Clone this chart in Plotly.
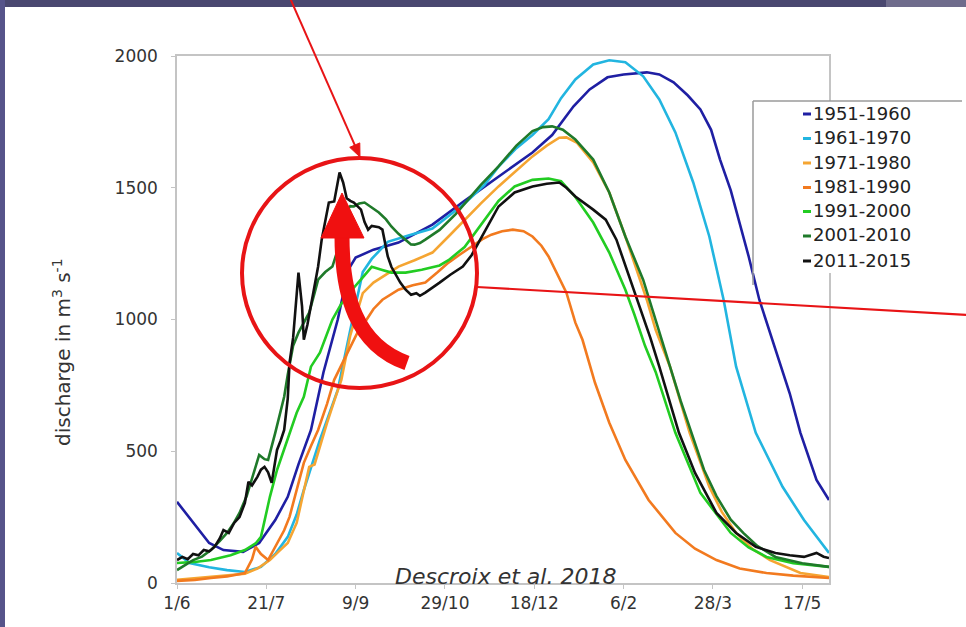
import math
import plotly.graph_objects as go

# ---------------- data (day index from 1 June, discharge m3/s) ----------------
tick_days = [0, 50, 100, 150, 200, 250, 300, 350]
tick_labels = ["1/6", "21/7", "9/9", "29/10", "18/12", "6/2", "28/3", "17/5"]
y_ticks = [0, 500, 1000, 1500, 2000]

series_names = ["1951-1960", "1961-1970", "1971-1980", "1981-1990",
                "1991-2000", "2001-2010", "2011-2015"]
series_colors = ["#1f1fa3", "#22b5e0", "#f5a532", "#f27a1f",
                 "#22cc22", "#1f7a2a", "#111111"]

d_5160 = [0, 9, 18, 26, 37, 46, 55, 62, 68, 75, 82, 90, 96, 100, 110, 124, 143, 161, 180, 199,
          210, 222, 231, 241, 250, 263, 270, 278, 286, 293, 299, 304, 310, 315, 320, 326, 332,
          338, 343, 349, 354, 358, 365]
q_5160 = [308, 228, 152, 125, 118, 152, 239, 327, 450, 581, 800, 1000, 1190, 1235, 1265, 1292,
          1360, 1450, 1543, 1634, 1700, 1809, 1873, 1919, 1930, 1938, 1930, 1900, 1850, 1797,
          1720, 1607, 1490, 1364, 1240, 1075, 950, 821, 720, 570, 470, 391, 315]

d_6170 = [0, 7, 18, 28, 38, 47, 55, 62, 67, 71, 80, 90, 97, 104, 109, 118, 130, 143, 161, 172,
          180, 190, 199, 208, 215, 223, 233, 242, 251, 261, 270, 279, 289, 298, 306, 313, 324,
          339, 351, 365]
q_6170 = [114, 76, 60, 49, 42, 61, 110, 175, 260, 353, 543, 733, 960, 1180, 1230, 1295, 1320,
          1345, 1440, 1510, 1580, 1650, 1700, 1760, 1840, 1911, 1968, 1984, 1976, 1923, 1835,
          1710, 1520, 1315, 1075, 821, 570, 365, 239, 114]

d_7180 = [0, 10, 19, 28, 38, 45, 52, 57, 62, 67, 71, 74, 77, 80, 84, 88, 92, 97, 104, 110,
          115, 124, 133, 143, 152, 161, 170, 180, 190, 199, 207, 214, 218, 224, 233, 242, 251,
          258, 263, 268, 276, 287, 298, 305, 313, 322, 332, 349, 365]
q_7180 = [12, 18, 22, 28, 35, 55, 87, 120, 152, 228, 350, 441, 450, 520, 608, 690, 771, 940,
          1100, 1140, 1163, 1201, 1225, 1254, 1315, 1379, 1440, 1505, 1565, 1619, 1660, 1690,
          1691, 1670, 1596, 1482, 1315, 1170, 1075, 960, 821, 570, 365, 270, 190, 130, 87, 38, 23]

d_8190 = [0, 10, 19, 28, 38, 42, 44, 47, 51, 56, 60, 63, 67, 71, 75, 79, 84, 88, 93, 97, 101,
          105, 110, 115, 124, 132, 139, 146, 152, 158, 165, 171, 176, 182, 188, 194, 199, 204,
          208, 214, 218, 223, 227, 234, 242, 251, 264, 279, 290, 302, 315, 330, 345, 365]
q_8190 = [8, 12, 19, 25, 38, 90, 137, 110, 87, 152, 200, 251, 350, 456, 520, 581, 680, 771,
          840, 897, 950, 988, 1040, 1075, 1113, 1130, 1140, 1180, 1216, 1245, 1277, 1305, 1322,
          1335, 1341, 1335, 1315, 1280, 1239, 1160, 1102, 988, 923, 760, 608, 467, 315, 190,
          130, 87, 55, 38, 28, 19]

d_9100 = [0, 10, 19, 30, 38, 44, 47, 52, 56, 62, 67, 71, 75, 80, 87, 92, 98, 104, 109, 114,
          120, 128, 137, 147, 152, 161, 171, 180, 189, 199, 208, 215, 223, 233, 242, 251, 256,
          262, 268, 279, 293, 310, 320, 330, 345, 365]
q_9100 = [76, 80, 87, 105, 125, 150, 175, 327, 429, 543, 646, 707, 821, 874, 1000, 1060, 1113,
          1160, 1200, 1190, 1178, 1178, 1189, 1205, 1225, 1275, 1365, 1450, 1505, 1530, 1535,
          1525, 1465, 1368, 1254, 1113, 1020, 900, 800, 570, 342, 190, 135, 99, 75, 61]

d_0110 = [0, 5, 9, 14, 19, 24, 28, 32, 35, 39, 43, 46, 49, 51, 55, 60, 62, 65, 68, 71, 74, 77,
          79, 83, 87, 90, 92, 94, 97, 99, 102, 105, 109, 113, 117, 120, 124, 128, 131, 133, 136,
          139, 147, 156, 161, 170, 180, 190, 199, 205, 210, 216, 223, 233, 242, 251, 261, 265,
          270, 276, 282, 288, 295, 302, 310, 317, 325, 335, 350, 365]
q_0110 = [49, 70, 87, 100, 125, 160, 190, 230, 266, 330, 418, 486, 470, 467, 570, 707, 790, 900,
          950, 990, 1026, 1100, 1151, 1180, 1201, 1265, 1350, 1406, 1430, 1429, 1440, 1444, 1425,
          1406, 1380, 1353, 1325, 1303, 1285, 1284, 1290, 1303, 1340, 1400, 1440, 1510, 1581,
          1660, 1715, 1730, 1733, 1720, 1683, 1607, 1482, 1315, 1150, 1060, 950, 821, 690, 570,
          430, 330, 240, 190, 140, 99, 75, 61]

d_1115 = [0, 3, 6, 9, 12, 15, 18, 21, 24, 26, 29, 32, 35, 38, 40, 42, 45, 47, 49, 51, 53, 56,
          58, 60, 62, 63, 65, 66, 68, 70, 71, 73, 75, 77, 79, 81, 83, 85, 88, 90, 91, 93, 95, 97,
          99, 101, 103, 105, 107, 109, 111, 113, 115, 117, 118, 120, 122, 125, 128, 131, 134,
          136, 139, 143, 147, 153, 160, 165, 171, 180, 189, 199, 207, 214, 218, 223, 233, 240,
          246, 253, 259, 265, 270, 281, 290, 302, 313, 324, 335, 343, 351, 355, 358, 362, 365]
q_1115 = [87, 99, 90, 110, 105, 125, 120, 137, 170, 201, 190, 228, 250, 304, 384, 370, 403, 430,
          441, 420, 380, 505, 540, 581, 700, 836, 930, 1026, 1178, 1050, 923, 980, 1049, 1120,
          1201, 1303, 1380, 1444, 1448, 1530, 1558, 1520, 1460, 1450, 1444, 1430, 1417, 1370,
          1341, 1355, 1353, 1350, 1341, 1280, 1239, 1200, 1178, 1140, 1113, 1094, 1100, 1090,
          1102, 1120, 1140, 1170, 1201, 1245, 1320, 1429, 1482, 1505, 1515, 1520, 1500, 1467,
          1417, 1379, 1303, 1163, 1050, 930, 821, 570, 418, 266, 190, 137, 114, 105, 99, 108,
          114, 100, 95]

series_days = [d_5160, d_6170, d_7180, d_8190, d_9100, d_0110, d_1115]
series_vals = [q_5160, q_6170, q_7180, q_8190, q_9100, q_0110, q_1115]

source_text = "Descroix et al. 2018"
y_title = "discharge in m<sup>3</sup> s<sup>-1</sup>"

# ---------------- layout geometry (pixels) ----------------
W, H = 966, 627
L, R, T, B = 177, 829, 56, 583
RED = "#e81416"
FONT = "DejaVu Sans"


def fx(px):
    return (px - L) / (R - L)


def fy(py):
    return (B - py) / (B - T)


fig = go.Figure()
for name, col, xs, ys in zip(series_names, series_colors, series_days, series_vals):
    fig.add_trace(go.Scatter(x=xs, y=ys, mode="lines", name=name,
                             line=dict(color=col, width=2.6), showlegend=False))

shapes = []
# slide frame bands
shapes.append(dict(type="rect", xref="paper", yref="paper", x0=fx(0), x1=fx(W), y0=fy(7), y1=fy(0),
                   fillcolor="#4a4870", line=dict(width=0), layer="above"))
shapes.append(dict(type="rect", xref="paper", yref="paper", x0=fx(886), x1=fx(W), y0=fy(7), y1=fy(0),
                   fillcolor="#6f6c8c", line=dict(width=0), layer="above"))
shapes.append(dict(type="rect", xref="paper", yref="paper", x0=fx(0), x1=fx(5), y0=fy(H), y1=fy(0),
                   fillcolor="#56548a", line=dict(width=0), layer="above"))
# legend box
shapes.append(dict(type="rect", xref="paper", yref="paper", x0=fx(753), x1=fx(W + 2), y0=fy(273), y1=fy(101),
                   fillcolor="white", line=dict(width=0), layer="above"))
shapes.append(dict(type="line", xref="paper", yref="paper", x0=fx(753), x1=fx(962), y0=fy(101), y1=fy(101),
                   line=dict(color="#9a9a9a", width=1.5), layer="above"))
shapes.append(dict(type="line", xref="paper", yref="paper", x0=fx(753), x1=fx(753), y0=fy(101), y1=fy(285),
                   line=dict(color="#9a9a9a", width=1.5), layer="above"))
# red circle
shapes.append(dict(type="circle", xref="paper", yref="paper", x0=fx(242), x1=fx(477), y0=fy(388), y1=fy(158),
                   line=dict(color=RED, width=4), layer="above"))
# red line to the right
shapes.append(dict(type="line", xref="paper", yref="paper", x0=fx(477), y0=fy(287), x1=fx(968), y1=fy(315),
                   line=dict(color=RED, width=2.2), layer="above"))
# thin arrow from the top edge down to the circle
tail = (290, -2)
tip = (360, 157)
dx, dy = tip[0] - tail[0], tip[1] - tail[1]
ln = math.hypot(dx, dy)
ux, uy = dx / ln, dy / ln
hl, hw = 13, 5.5
bx, by = tip[0] - hl * ux, tip[1] - hl * uy
shapes.append(dict(type="line", xref="paper", yref="paper", x0=fx(tail[0]), y0=fy(tail[1]),
                   x1=fx(bx + 2 * ux), y1=fy(by + 2 * uy), line=dict(color=RED, width=2), layer="above"))
thin_head = "M {:.5f},{:.5f} L {:.5f},{:.5f} L {:.5f},{:.5f} Z".format(
    fx(tip[0]), fy(tip[1]), fx(bx - hw * uy), fy(by + hw * ux), fx(bx + hw * uy), fy(by - hw * ux))
shapes.append(dict(type="path", xref="paper", yref="paper", path=thin_head,
                   fillcolor=RED, line=dict(color=RED, width=1), layer="above"))
# thick curved arrow shaft
shaft = "M {:.5f},{:.5f} C {:.5f},{:.5f} {:.5f},{:.5f} {:.5f},{:.5f}".format(
    fx(407), fy(363), fx(356), fy(345), fx(342), fy(295), fx(342), fy(236))
shapes.append(dict(type="path", xref="paper", yref="paper", path=shaft,
                   line=dict(color="#f01010", width=15), layer="above"))
head = "M {:.5f},{:.5f} L {:.5f},{:.5f} L {:.5f},{:.5f} Z".format(
    fx(321), fy(238), fx(342), fy(193), fx(364), fy(238))
shapes.append(dict(type="path", xref="paper", yref="paper", path=head,
                   fillcolor="#f01010", line=dict(color="#f01010", width=1), layer="above"))

annotations = []
# legend entries (coloured dash + label)
leg_y = [113, 137.5, 162, 186.5, 210.5, 235, 260]
for name, col, yy in zip(series_names, series_colors, leg_y):
    shapes.append(dict(type="line", xref="paper", yref="paper", x0=fx(803), x1=fx(811),
                       y0=fy(yy + 1), y1=fy(yy + 1), line=dict(color=col, width=3), layer="above"))
    annotations.append(dict(xref="paper", yref="paper", x=fx(811), y=fy(yy), xanchor="left", yanchor="middle",
                            text=name, showarrow=False,
                            font=dict(family=FONT, size=18, color="#222222")))
# source
annotations.append(dict(xref="paper", yref="paper", x=fx(393), y=fy(576), xanchor="left", yanchor="middle",
                        text=source_text, showarrow=False,
                        font=dict(family=FONT, size=22, color="#333333", style="italic")))
# y title
annotations.append(dict(xref="paper", yref="paper", x=fx(62), y=fy(352), xanchor="center", yanchor="middle",
                        text=y_title, textangle=-90, showarrow=False,
                        font=dict(family=FONT, size=20, color="#333333")))

axis_common = dict(showline=True, mirror=True, linecolor="#c4c4c4", linewidth=1.5,
                   ticks="outside", ticklen=4, tickcolor="#c4c4c4", showgrid=False, zeroline=False,
                   tickfont=dict(family=FONT, size=17, color="#333333"))

fig.update_layout(
    width=W, height=H,
    margin=dict(l=L, r=W - R, t=T, b=H - B),
    paper_bgcolor="white", plot_bgcolor="white",
    xaxis=dict(range=[0, 365], tickmode="array", tickvals=tick_days, ticktext=tick_labels, **axis_common),
    yaxis=dict(range=[0, 2000], tickmode="array", tickvals=y_ticks,
               ticklabelstandoff=10, **axis_common),
    shapes=shapes, annotations=annotations, showlegend=False,
)

fig.write_html("out.html")
